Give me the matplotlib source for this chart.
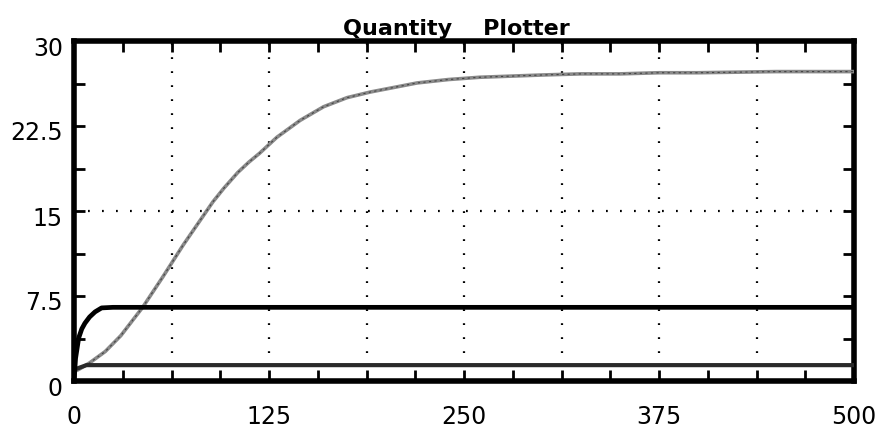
import matplotlib
matplotlib.use("Agg")
import matplotlib.pyplot as plt
import matplotlib.transforms as mtransforms

# --- data ---
slow_t = [0, 4, 10, 20, 30, 44, 57, 70, 79, 89, 96, 105, 112, 119, 130, 145,
          160, 175, 190, 205, 220, 240, 260, 280, 300, 325, 350, 375, 400, 450, 500]
slow_v = [0.8, 1.1, 1.6, 2.6, 4.0, 6.5, 9.2, 12.0, 13.8, 15.8, 17.0, 18.4, 19.3, 20.1,
          21.5, 23.0, 24.2, 25.0, 25.5, 25.9, 26.3, 26.6, 26.8, 26.9, 27.0,
          27.1, 27.1, 27.2, 27.2, 27.3, 27.3]

fast_t = [0, 1, 3, 5, 7, 10, 13.5, 17.7, 25, 500]
fast_v = [0.0, 2.0, 3.8, 4.6, 5.1, 5.65, 6.1, 6.45, 6.5, 6.5]

low_t = [0, 4, 8, 500]
low_v = [1.0, 1.2, 1.4, 1.4]

x_ticklabels = ["0", "125", "250", "375", "500"]
x_label_pos = [0, 125, 250, 375, 500]
y_ticklabels = ["0", "7.5", "15", "22.5", "30"]
y_label_pos = [0, 7.5, 15, 22.5, 30]
x_minor = [i * 31.25 for i in range(17)]
y_minor = [i * 3.75 for i in range(9)]
x_grid = [62.5, 125, 187.5, 250, 312.5, 375, 437.5]
y_grid = [15]
title = "Quantity    Plotter"

fig = plt.figure(figsize=(8.8, 4.28), dpi=100)
ax = fig.add_axes([74 / 880, 1 - 381 / 428, 780 / 880, 340 / 428])
ax.set_xlim(0, 500)
ax.set_ylim(0, 30)

for g in x_grid:
    ax.axvline(g, color="black", lw=1.6, linestyle=(0, (0.8, 5.5)), zorder=1)
for g in y_grid:
    ax.axhline(g, color="black", lw=1.6, linestyle=(0, (0.8, 5.5)), zorder=1)

ax.plot(slow_t, slow_v, color="#8a8a8a", lw=2.6, zorder=3)
ax.plot(slow_t, slow_v, color="#444444", lw=0.8, linestyle=(0, (2, 3)), zorder=3)
ax.plot(low_t, low_v, color="#2a2a2a", lw=3.0, zorder=3)
ax.plot(fast_t, fast_v, color="black", lw=3.4, zorder=4)

for s in ax.spines.values():
    s.set_linewidth(4)
    s.set_color("black")

ax.set_xticks(x_label_pos)
ax.set_xticklabels(x_ticklabels)
ax.set_yticks(y_label_pos)
ax.set_yticklabels(y_ticklabels)
ax.set_xticks(x_minor, minor=True)
ax.set_yticks(y_minor, minor=True)
ax.tick_params(which="both", direction="in", top=True, right=True,
               length=8, width=2, color="black")
ax.tick_params(axis="x", which="major", labelsize=17, pad=17)
ax.tick_params(axis="y", which="major", labelsize=17, pad=8)

off = mtransforms.ScaledTranslation(0, -5 / 100, fig.dpi_scale_trans)
for lab in ax.get_yticklabels():
    lab.set_transform(lab.get_transform() + off)

fig.text(456 / 880, 1 - 35 / 428, title, fontsize=16, fontweight="bold",
         ha="center", va="baseline")

fig.savefig("out.png", dpi=100)
